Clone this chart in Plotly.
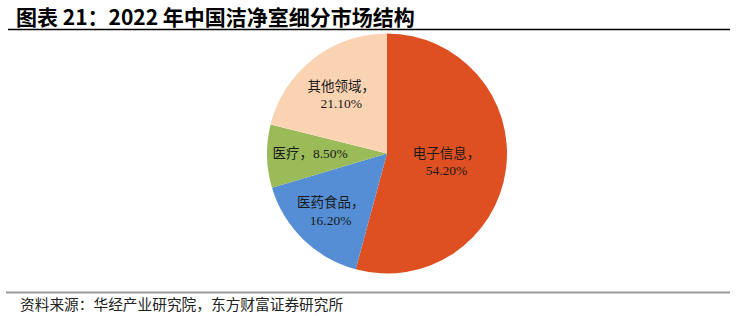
import plotly.graph_objects as go

categories = ["电子信息", "医药食品", "医疗", "其他领域"]
values = [54.2, 16.2, 8.5, 21.1]
label_texts = ["电子信息，<br>54.20%", "医药食品，<br>16.20%", "医疗，8.50%", "其他领域，<br>21.10%"]
colors = ["#DE5021", "#558ED5", "#9BBB59", "#FAD3B3"]

W, H = 737, 316
fig = go.Figure()
fig.add_trace(go.Pie(
    labels=categories, values=values, text=label_texts,
    texttemplate="%{text}", textposition="inside", insidetextorientation="horizontal",
    sort=False, direction="clockwise", rotation=0,
    marker=dict(colors=colors, line=dict(color="white", width=0)),
    textfont=dict(family="Liberation Serif, Noto Sans CJK SC", size=13.5, color="#1a1a1a"),
    domain=dict(x=[267/W, 507/W], y=[1-275/H, 1-32/H]),
    showlegend=False, hoverinfo="label+percent",
))

fig.update_layout(
    width=W, height=H, margin=dict(l=0, r=0, t=0, b=0),
    paper_bgcolor="white", plot_bgcolor="white",
    annotations=[
        dict(text="<b>图表 21：2022 年中国洁净室细分市场结构</b>", x=14/W, y=1-16/H,
             xref="paper", yref="paper", xanchor="left", yanchor="middle", showarrow=False,
             font=dict(family="Noto Sans CJK SC", size=21, color="black")),
        dict(text="资料来源：华经产业研究院，东方财富证券研究所", x=18/W, y=1-303/H,
             xref="paper", yref="paper", xanchor="left", yanchor="middle", showarrow=False,
             font=dict(family="Noto Sans CJK SC", size=14.7, color="#222")),
    ],
    shapes=[
        dict(type="line", xref="paper", yref="paper", x0=8/W, x1=730/W, y0=1-29.5/H, y1=1-29.5/H,
             line=dict(color="black", width=1.5)),
        dict(type="line", xref="paper", yref="paper", x0=6/W, x1=730/W, y0=1-292.5/H, y1=1-292.5/H,
             line=dict(color="#999", width=2)),
    ],
)
fig.write_html("out.html")
